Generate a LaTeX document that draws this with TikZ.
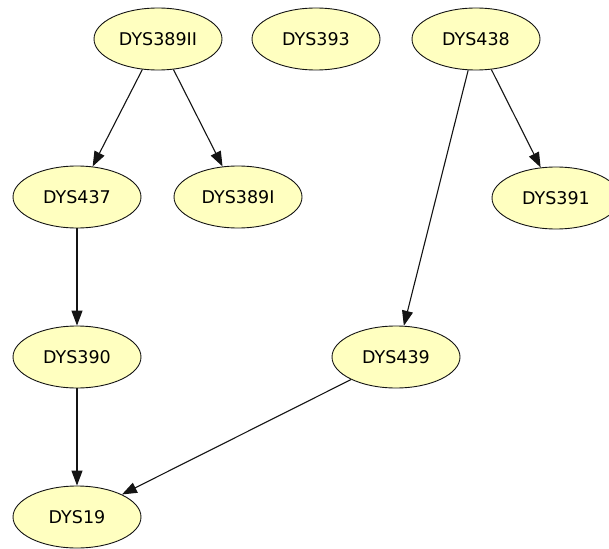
\documentclass[tikz,border=0pt]{standalone}
\usepackage{fontspec}
\setmainfont{DejaVu Sans}
\usetikzlibrary{shapes.geometric,arrows.meta}
\definecolor{nodefill}{RGB}{255,255,192}
\definecolor{edgeink}{RGB}{20,20,20}
\tikzset{
  locus/.style={ellipse, draw=edgeink, line width=0.9pt, fill=nodefill,
    minimum width=128pt, minimum height=62pt, inner sep=0pt,
    font=\fontsize{17.5pt}{20pt}\selectfont},
  link/.style={draw=edgeink, line width=1.1pt,
    -{Triangle[length=15pt,width=11pt]}}
}
\begin{document}
\begin{tikzpicture}[x=1pt,y=-1pt]
  \useasboundingbox (0,0) rectangle (609,548);
  % loci
  \node[locus] (d389ii) at (158,39)  {DYS389II};
  \node[locus] (d393)   at (316,39)  {DYS393};
  \node[locus] (d438)   at (476,39)  {DYS438};
  \node[locus] (d437)   at (77,197)  {DYS437};
  \node[locus] (d389i)  at (238,197) {DYS389I};
  \node[locus] (d391)   at (556,198) {DYS391};
  \node[locus] (d390)   at (77,357)  {DYS390};
  \node[locus] (d439)   at (396,357) {DYS439};
  \node[locus] (d19)    at (77,517)  {DYS19};
  % dependencies
  \draw[link] (d389ii) -- (d437);
  \draw[link] (d389ii) -- (d389i);
  \draw[link] (d438) -- (d391);
  \draw[link] (d438) -- (d439);
  \draw[link] (d437) -- (d390);
  \draw[link] (d390) -- (d19);
  \draw[link] (d439) -- (d19);
\end{tikzpicture}
\end{document}
